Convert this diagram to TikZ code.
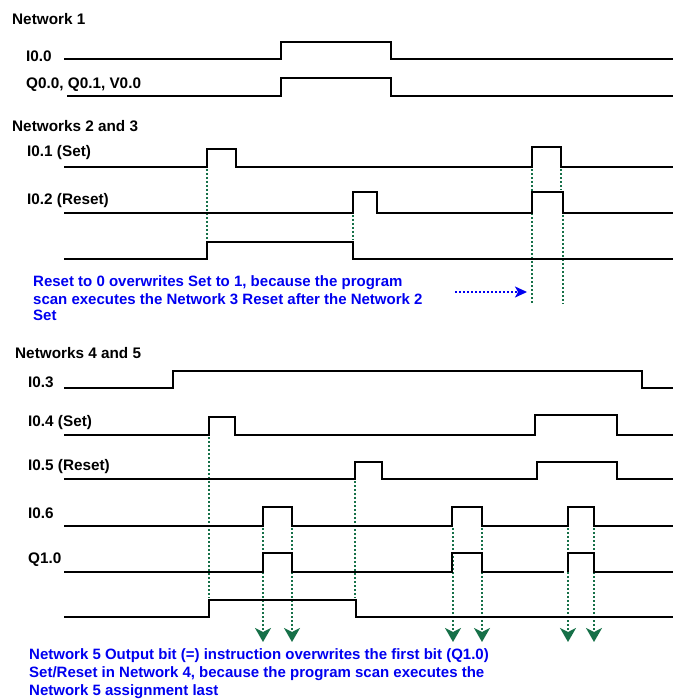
\documentclass[tikz,border=0pt]{standalone}
\usepackage{fontspec}
\setmainfont{Liberation Sans}
\usetikzlibrary{arrows.meta}
\definecolor{dgreen}{RGB}{22,112,72}
\definecolor{tblue}{RGB}{0,0,240}
\tikzset{
  wave/.style={line width=2.2pt, line join=miter},
  lbl/.style={anchor=west, inner sep=0pt, font=\bfseries\fontsize{15.3}{17}\selectfont},
  note/.style={anchor=west, inner sep=0pt, text=tblue, font=\bfseries\fontsize{15}{16}\selectfont},
  gdot/.style={dgreen, line width=1.7pt, dash pattern=on 1.7pt off 2.3pt},
  garrow/.style={gdot, -{Stealth[length=14pt,width=16pt,inset=4pt]}},
  barrow/.style={tblue, line width=1.6pt, dash pattern=on 1.6pt off 2.4pt, -{Stealth[length=12pt,width=11pt,inset=3pt]}}
}
\begin{document}
\begin{tikzpicture}[x=1pt,y=-1pt]
\useasboundingbox (0,0) rectangle (673,700);
% ---------------- Network 1
\node[lbl] (n1) at (12,19) {Network 1};
\node[lbl] (l00) at (26,56) {I0.0};
\node[lbl] (lq) at (26,85) {Q0.0, Q0.1, V0.0};
\draw[wave] (64,59) -- (281,59) -- (281,42) -- (391,42) -- (391,59) -- (673,59);
\draw[wave] (67,96) -- (281,96) -- (281,78) -- (391,78) -- (391,96) -- (673,96);
% ---------------- Networks 2 and 3
\node[lbl] (n23) at (12,126) {Networks 2 and  3};
\node[lbl] (l01) at (27,153) {I0.1 (Set)};
\node[lbl] (l02) at (27,201) {I0.2 (Reset)};
\draw[gdot] (207,169) -- (207,240);
\draw[gdot] (353,215) -- (353,240);
\draw[gdot] (532,169) -- (532,304);
\draw[gdot] (561,169) -- (561,190);
\draw[gdot] (563,215) -- (563,304);
\draw[wave] (64,167) -- (207,167) -- (207,149) -- (236,149) -- (236,167) -- (532,167) -- (532,147) -- (561,147) -- (561,167) -- (673,167);
\draw[wave] (64,213) -- (353,213) -- (353,192) -- (377,192) -- (377,213) -- (532,213) -- (532,192) -- (563,192) -- (563,213) -- (673,213);
\draw[wave] (64,259) -- (207,259) -- (207,242) -- (353,242) -- (353,259) -- (673,259);
\node[note] (t1) at (33,283) {Reset to 0 overwrites Set to 1, because the program};
\node[note] (t2) at (33,299) {scan executes the Network 3 Reset after the Network 2};
\node[note] (t3) at (33,315) {Set};
\coordinate (bs) at (455,292);
\coordinate (be) at (527,292);
\draw[barrow] (bs) -- (be);
% ---------------- Networks 4 and 5
\node[lbl] (n45) at (15,353) {Networks 4  and  5};
\node[lbl] (l03) at (28,382) {I0.3};
\node[lbl] (l04) at (28,423) {I0.4 (Set)};
\node[lbl] (l05) at (28,467) {I0.5 (Reset)};
\node[lbl] (l06) at (28,513) {I0.6};
\node[lbl] (lq10) at (28,560) {Q1.0};
\draw[gdot] (209,437) -- (209,598);
\draw[gdot] (355,481) -- (355,598);
\foreach \x in {263,292,453,482,568,594}{
  \draw[garrow] (\x,528) -- (\x,642);
}
\draw[wave] (64,388) -- (173,388) -- (173,371) -- (642,371) -- (642,388) -- (673,388);
\draw[wave] (64,435) -- (209,435) -- (209,417) -- (235,417) -- (235,435) -- (535,435) -- (535,415) -- (617,415) -- (617,435) -- (673,435);
\draw[wave] (64,479) -- (355,479) -- (355,462) -- (382,462) -- (382,479) -- (537,479) -- (537,462) -- (617,462) -- (617,479) -- (673,479);
\draw[wave] (64,526) -- (263,526) -- (263,507) -- (292,507) -- (292,526) -- (452,526) -- (452,507) -- (482,507) -- (482,526) -- (568,526) -- (568,507) -- (594,507) -- (594,526) -- (673,526);
\draw[wave] (64,572) -- (263,572) -- (263,553) -- (292,553) -- (292,572) -- (452,572) -- (452,553) -- (482,553) -- (482,572) -- (564,572);
\draw[wave] (568,572) -- (568,553) -- (594,553) -- (594,572) -- (673,572);
\draw[wave] (64,617) -- (209,617) -- (209,600) -- (356,600) -- (356,617) -- (673,617);
\node[note] (b1) at (29,656) {Network 5 Output bit (=) instruction overwrites the first bit (Q1.0)};
\node[note] (b2) at (29,674) {Set/Reset in Network 4, because the program scan executes the};
\node[note] (b3) at (29,692) {Network 5 assignment last};
\end{tikzpicture}
\end{document}
